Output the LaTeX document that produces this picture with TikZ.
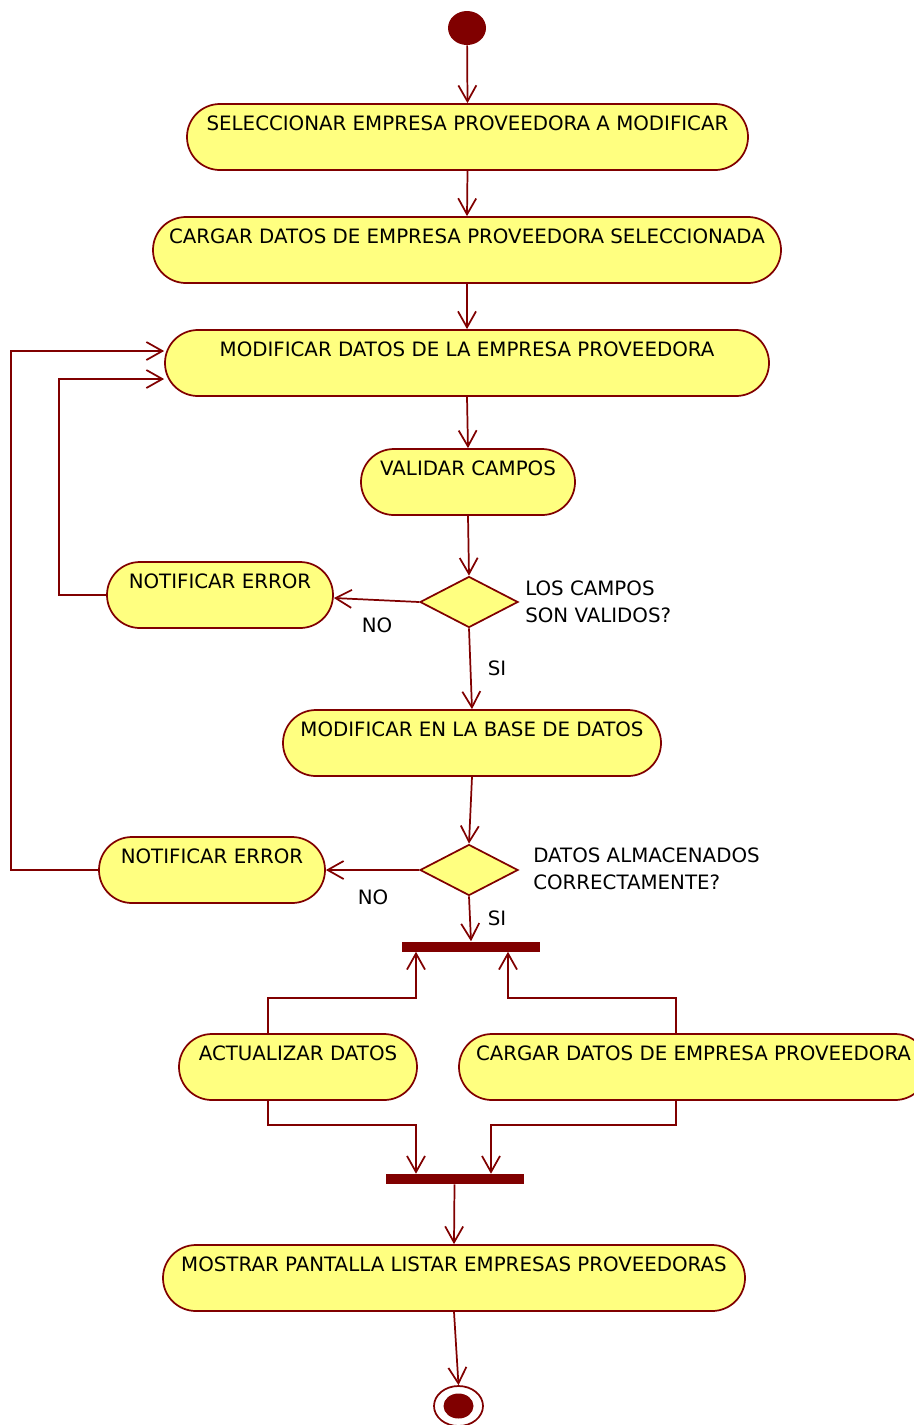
\documentclass[tikz,border=0pt]{standalone}
\usepackage{fontspec}
\setmainfont{DejaVu Sans}
\usetikzlibrary{arrows.meta,shapes.geometric}
\definecolor{umlline}{HTML}{800000}
\definecolor{umlfill}{HTML}{FFFF80}
\begin{document}
\begin{tikzpicture}[x=0.75pt,y=-0.75pt,
  font=\fontsize{14.85pt}{20.25pt}\selectfont,
  act/.style={draw=umlline,fill=umlfill,line width=1.3pt,rectangle,
    rounded corners=24.7pt,minimum width=#1*0.75pt,minimum height=49.5pt,
    inner ysep=0pt,text height=19.5pt,text depth=30pt},
  dec/.style={draw=umlline,fill=umlfill,line width=1.3pt,diamond,
    inner sep=0pt,minimum width=73.5pt,minimum height=38.25pt},
  bar/.style={fill=umlline,draw=none,rectangle,inner sep=0pt,
    minimum width=103.5pt,minimum height=7.5pt},
  arr/.style={draw=umlline,line width=1.3pt,
    -{Straight Barb[length=12pt,width=13.5pt,line width=1.3pt]}},
  lbl/.style={inner sep=0pt}]
\useasboundingbox (0,0) rectangle (914,1425);
\clip (0,0) rectangle (914,1425);

% start and end states
\node[ellipse,fill=umlline,inner sep=0pt,minimum width=28.5pt,minimum height=25.5pt] (ini) at (467,28) {};
\node[ellipse,draw=umlline,line width=1.3pt,fill=white,inner sep=0pt,minimum width=36.75pt,minimum height=30pt] (fin) at (458.5,1406) {};
\node[ellipse,fill=umlline,inner sep=0pt,minimum width=22.5pt,minimum height=18.75pt] (finin) at (458.5,1406) {};

% actions
\node[act=561] (a1) at (467.5,137) {SELECCIONAR EMPRESA PROVEEDORA A MODIFICAR};
\node[act=628] (a2) at (467,250) {CARGAR DATOS DE EMPRESA PROVEEDORA SELECCIONADA};
\node[act=604] (a3) at (467,363) {MODIFICAR DATOS DE LA EMPRESA PROVEEDORA};
\node[act=214] (a4) at (468,482) {VALIDAR CAMPOS};
\node[act=226] (n1) at (220,595) {NOTIFICAR ERROR};
\node[act=378] (a5) at (472,743) {MODIFICAR EN LA BASE DE DATOS};
\node[act=226] (n2) at (212,870) {NOTIFICAR ERROR};
\node[act=238] (ac) at (298,1067) {ACTUALIZAR DATOS};
\node[act=469] (cg) at (693.5,1067) {CARGAR DATOS DE EMPRESA PROVEEDORA};
\node[act=582] (mo) at (454,1278) {MOSTRAR PANTALLA LISTAR EMPRESAS PROVEEDORAS};

% decisions
\node[dec] (d1) at (469,602) {};
\node[dec] (d2) at (469,870) {};

% fork / join bars
\node[bar] (f1) at (471,946.5) {};
\node[bar] (f2) at (454.5,1179) {};

% decision texts and guards
\node[lbl,anchor=west,align=left] (q1) at (525,601.5) {LOS CAMPOS\\SON VALIDOS?};
\node[lbl,anchor=west,align=left] (q2) at (533,869) {DATOS ALMACENADOS\\CORRECTAMENTE?};
\node[lbl] (no1) at (377,625) {NO};
\node[lbl] (si1) at (497,668) {SI};
\node[lbl] (no2) at (373,897) {NO};
\node[lbl] (si2) at (497,918) {SI};

% flows
\draw[arr] (ini) -- (a1.north);
\draw[arr] (a1.south) -- (a2.north);
\draw[arr] (a2.south) -- (a3.north);
\draw[arr] (a3.south) -- (a4.north);
\draw[arr] (a4.south) -- (d1.north);
\draw[arr] (d1.west) -- ([yshift=-2.25pt]n1.east);
\draw[arr] (d1.south) -- (a5.north);
\draw[arr] (n1.west) -- ++(-47,0) |- ([yshift=-12pt]a3.west);
\draw[arr] (a5.south) -- (d2.north);
\draw[arr] (d2.west) -- (n2.east);
\draw[arr] (n2.west) -- ++(-87,0) |- ([yshift=9pt]a3.west);
\draw[arr] (d2.south) -- (f1.north);
\draw[arr] ([xshift=-22.5pt]ac.north) -- ++(0,-35) -| ([xshift=-41.25pt]f1.south);
\draw[arr] ([xshift=-13.125pt]cg.north) -- ++(0,-35) -| ([xshift=27.75pt]f1.south);
\draw[arr] ([xshift=-22.5pt]ac.south) -- ++(0,24) -| ([xshift=-28.875pt]f2.north);
\draw[arr] ([xshift=-13.125pt]cg.south) -- ++(0,24) -| ([xshift=27.375pt]f2.north);
\draw[arr] (f2.south) -- (mo.north);
\draw[arr] (mo.south) -- (fin.north);
\end{tikzpicture}
\end{document}
